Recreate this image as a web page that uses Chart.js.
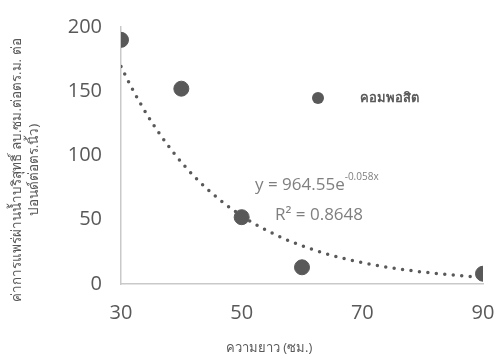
<!DOCTYPE html>
<html>
<head>
<meta charset="utf-8">
<script src="https://cdn.jsdelivr.net/npm/chart.js@4"></script>
<style>
  html, body { margin: 0; padding: 0; background: #fff; }
  #wrap { width: 497px; height: 360px; }
</style>
</head>
<body>
<div id="wrap"><canvas id="Chart"></canvas></div>
<script>
// measured samples
const lengths = [30, 40, 50, 60, 90];
const permeability = [190, 152, 52, 13, 8];
const seriesName = 'คอมพอสิต';

// exponential trendline y = a * e^(b x)
const trendA = 964.55;
const trendB = -0.058;
const trendText = 'y = 964.55e';
const trendExp = '-0.058x';
const r2Text = 'R² = 0.8648';

const xTicks = [30, 50, 70, 90];
const yTicks = [0, 50, 100, 150, 200];
const xTitle = 'ความยาว (ซม.)';
const yTitle = ['ค่าการแพร่ผ่านน้ำบริสุทธิ์ ลบ.ซม.ต่อตร.ม. ต่อ', 'ปอนด์ต่อตร.นิ้ว)'];

const grey = '#595959';
const font = "'Open Sans', 'Noto Sans', sans-serif";

let trend = [];
for (let x = xTicks[0]; x <= xTicks[xTicks.length - 1]; x += 0.5) {
  trend.push({ x: x, y: trendA * Math.exp(trendB * x) });
}

// legend, equation and axis titles drawn by hand
const notes = {
  id: 'notes',
  afterDatasetsDraw(chart) {
    const c = chart.ctx;
    const a = chart.chartArea;
    c.save();
    c.fillStyle = grey;
    c.beginPath();
    c.arc(a.left + 197, a.top + 71, 6, 0, Math.PI * 2);
    c.fill();
    c.font = "bold 13px " + font;
    c.textBaseline = 'middle';
    c.fillText(seriesName, a.left + 239, a.top + 71);

    c.fillStyle = '#7f7f7f';
    c.font = "17px " + font;
    c.textBaseline = 'alphabetic';
    c.fillText(trendText, a.left + 134, a.top + 163);
    let w = c.measureText(trendText).width;
    c.font = "10px " + font;
    c.fillText(trendExp, a.left + 134 + w, a.top + 153);
    c.font = "17px " + font;
    c.fillText(r2Text, a.left + 154, a.top + 193);

    // axis titles
    c.fillStyle = grey;
    c.textAlign = 'center';
    c.textBaseline = 'middle';
    c.font = "13px " + font;
    c.fillText(xTitle, a.left + 148, a.bottom + 64);
    c.translate(0, a.top + 143);
    c.rotate(-Math.PI / 2);
    c.font = "13.5px " + font;
    c.fillText(yTitle[0], 0, 17);
    c.fillText(yTitle[1], 0, 34);
    c.restore();
  }
};

const ctx = document.getElementById('Chart');

new Chart(ctx, {
  type: 'scatter',
  data: {
    datasets: [{
      label: seriesName,
      data: lengths.map((x, i) => ({ x: x, y: permeability[i] })),
      backgroundColor: grey,
      borderColor: grey,
      pointRadius: 7.5,
      order: 1
    }, {
      label: 'trend',
      type: 'line',
      data: trend,
      showLine: true,
      pointRadius: 0,
      borderColor: grey,
      borderWidth: 3.5,
      borderDash: [0, 8.5],
      borderCapStyle: 'round',
      fill: false,
      order: 2
    }]
  },
  plugins: [notes],
  options: {
    responsive: true,
    maintainAspectRatio: false,
    animation: false,
    layout: { padding: { top: 27, right: 14, left: 0, bottom: 6 } },
    plugins: {
      legend: { display: false },
      tooltip: { enabled: false }
    },
    scales: {
      x: {
        type: 'linear',
        min: xTicks[0],
        max: xTicks[xTicks.length - 1],
        afterBuildTicks: s => { s.ticks = xTicks.map(v => ({ value: v })); },
        afterFit: s => { s.height = 70; s.paddingLeft = 0; s.paddingRight = 0; },
        grid: { display: false, drawTicks: false },
        border: { color: '#c9c9c9', width: 1.5 },
        ticks: { color: grey, padding: 17, font: { family: font, size: 20 } }
      },
      y: {
        min: yTicks[0],
        max: yTicks[yTicks.length - 1],
        afterBuildTicks: s => { s.ticks = yTicks.map(v => ({ value: v })); },
        afterFit: s => { s.width = 121; s.paddingTop = 0; s.paddingBottom = 0; },
        grid: { display: false, drawTicks: false },
        border: { color: '#c9c9c9', width: 1.5 },
        ticks: { color: grey, padding: 19, font: { family: font, size: 20 } }
      }
    }
  }
});
</script>
</body>
</html>
